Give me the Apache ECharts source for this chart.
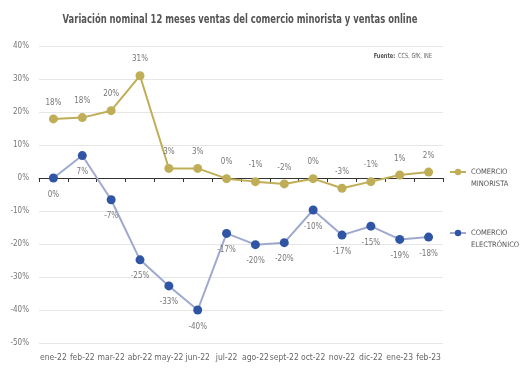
<!DOCTYPE html>
<html><head><meta charset="utf-8">
<script src="https://cdn.jsdelivr.net/npm/echarts@6/dist/echarts.min.js"></script>
<style>html,body{margin:0;padding:0;background:#fff}#c{width:523px;height:377px}</style>
</head><body><div id="c"></div>
<script>
const categories = ['ene-22','feb-22','mar-22','abr-22','may-22','jun-22','jul-22','ago-22','sept-22','oct-22','nov-22','dic-22','ene-23','feb-23'];
const minorista = [17.9, 18.3, 20.4, 31.0, 2.9, 2.9, -0.2, -1.1, -1.8, -0.2, -3.1, -1.1, 0.9, 1.8];
const electronico = [0.0, 6.8, -6.6, -24.8, -32.7, -40.0, -16.8, -20.2, -19.6, -9.7, -17.3, -14.6, -18.6, -17.9];
const yTicks = {min: -50, max: 40, interval: 10};
const FONT = '"DejaVu Sans Condensed","Liberation Sans Narrow","Roboto",sans-serif';
const gold = '#bfae57', blueDot = '#2f55a4', blueLine = '#9fa9cf';
const chart = echarts.init(document.getElementById('c'));
const legendText = {fontSize: 7.5, color: '#555', fontFamily: FONT, lineHeight: 12};
chart.setOption({
  animation: false,
  textStyle: {fontFamily: FONT},
  graphic: [
    {type: 'text', x: 240, y: 20, scaleX: 0.72, style: {text: 'Variación nominal 12 meses ventas del comercio minorista y ventas online',
      align: 'center', verticalAlign: 'middle', fontFamily: FONT, fontSize: 13, fontWeight: 'bold', fill: '#555'}},
    {type: 'text', x: 432, y: 56, scaleX: 0.8, style: {align: 'right', verticalAlign: 'middle',
      rich: {b: {fontWeight: 'bold', fontSize: 7, fill: '#555', fontFamily: FONT}, n: {fontSize: 7, fill: '#666', fontFamily: FONT}}, text: '{b|Fuente:} {n|CCS, GfK, INE}'}}
  ],
  legend: [
    {data: ['COMERCIO\nMINORISTA'], left: 444, top: 149, itemWidth: 16, itemHeight: 8, textStyle: legendText, formatter: n => ' \n' + n},
    {data: ['COMERCIO\nELECTRÓNICO'], left: 444, top: 210, itemWidth: 16, itemHeight: 8, textStyle: legendText, formatter: n => ' \n' + n}
  ],
  grid: {left: 39, right: 80, top: 46, bottom: 34},
  xAxis: [
    {type: 'category', data: categories, boundaryGap: true,
      axisLine: {onZero: true, lineStyle: {color: '#333', width: 1}},
      axisTick: {show: true, interval: 0, length: 4, lineStyle: {color: '#333'}},
      axisLabel: {show: false}},
    {type: 'category', data: categories, position: 'bottom', boundaryGap: true,
      axisLine: {show: false, onZero: false}, axisTick: {show: false},
      axisLabel: {interval: 0, fontSize: 8.5, color: '#666', margin: 10, fontFamily: FONT}}
  ],
  yAxis: {type: 'value', min: yTicks.min, max: yTicks.max, interval: yTicks.interval,
    axisLine: {show: false}, axisTick: {show: false},
    splitLine: {lineStyle: {color: '#e6e6e6'}},
    axisLabel: {formatter: v => v + '%', fontSize: 8, color: '#777', margin: 10, fontFamily: FONT}},
  series: [
    {name: 'COMERCIO\nMINORISTA', type: 'line', data: minorista, xAxisIndex: 0,
      symbol: 'circle', symbolSize: 9, itemStyle: {color: gold}, lineStyle: {color: gold, width: 2},
      label: {show: true, position: 'top', distance: 8, formatter: p => Math.round(p.value) + '%', fontSize: 8, color: '#777', fontFamily: FONT}},
    {name: 'COMERCIO\nELECTRÓNICO', type: 'line', data: electronico, xAxisIndex: 0,
      symbol: 'circle', symbolSize: 9, itemStyle: {color: blueDot}, lineStyle: {color: blueLine, width: 2},
      label: {show: true, position: 'bottom', distance: 8, formatter: p => Math.round(p.value) + '%', fontSize: 8, color: '#777', fontFamily: FONT}}
  ]
});
</script></body></html>
